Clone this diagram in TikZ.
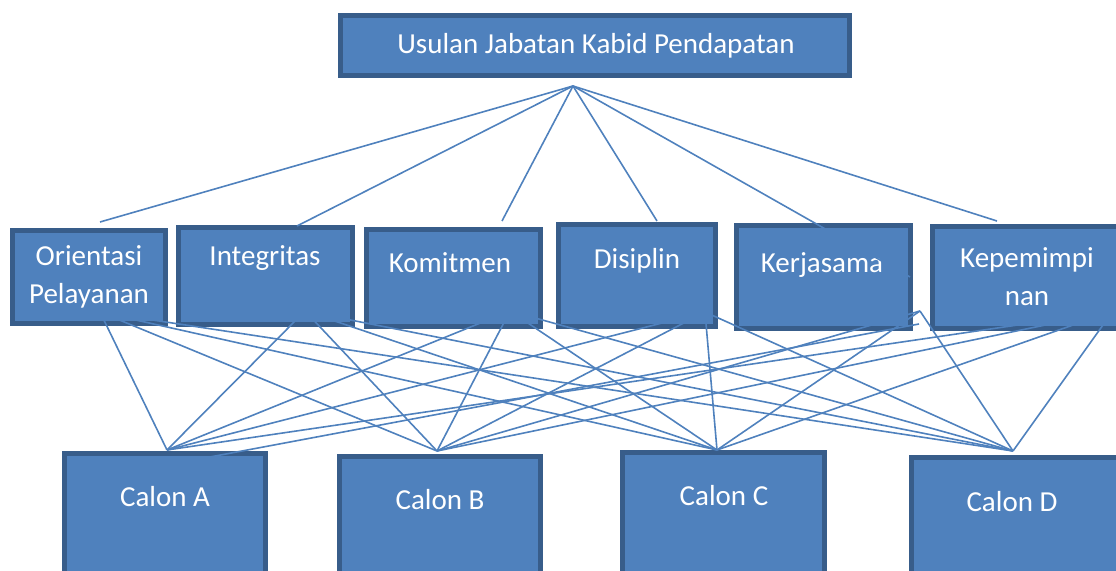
\documentclass[tikz,border=0pt]{standalone}
\usepackage{fontspec}
\setmainfont{Carlito}
\usepackage{tikz}
\usetikzlibrary{positioning,fit}
\usepackage{xcolor}
\definecolor{BoxFill}{HTML}{4F81BD}
\definecolor{BoxLine}{HTML}{385D8A}
\tikzset{
  boxnode/.style={draw=BoxLine,fill=BoxFill,line width=2.4pt,inner sep=0pt},
  boxtext/.style={text=white,align=center,font=\fontsize{14.5}{19}\selectfont,inner sep=0pt},
  link/.style={draw=BoxFill,line width=0.8pt}
}
\begin{document}
\begin{tikzpicture}[x=0.5pt,y=-0.5pt]
\useasboundingbox (0,0) rectangle (1116,571);
% goal
\node[boxnode,fit={(340.5,15.5) (849.5,75.5)}] (goal) {};
\node[boxtext] (goaltext) at (596,46) {Usulan Jabatan Kabid Pendapatan};
% criteria
\node[boxnode,fit={(12.5,230.5) (165.5,323.5)}] (ori) {};
\node[boxnode,fit={(178.5,227.5) (352.5,324.5)}] (int) {};
\node[boxnode,fit={(366.5,229.5) (540.5,326.5)}] (kom) {};
\node[boxnode,fit={(558.5,224.5) (715.5,326.5)}] (dis) {};
\node[boxnode,fit={(736.5,225.5) (910.5,328.5)}] (kja) {};
\node[boxnode,fit={(932.5,226.5) (1130,328.5)}] (kep) {};
\node[boxtext] (oritext) at (89,277) {Orientasi\\Pelayanan};
\node[boxtext] (inttext) at (265,258) {Integritas};
\node[boxtext] (komtext) at (450,263) {Komitmen};
\node[boxtext] (distext) at (637,261) {Disiplin};
\node[boxtext] (kjatext) at (822,265) {Kerjasama};
\node[boxtext] (keptext) at (1027,277) {Kepemimpi\\nan};
% alternatives
\node[boxnode,fit={(64.5,453.5) (265.5,590)}] (A) {};
\node[boxnode,fit={(339.5,456.5) (540.5,590)}] (B) {};
\node[boxnode,fit={(622.5,452.5) (824.5,590)}] (C) {};
\node[boxnode,fit={(911.5,457.5) (1130,590)}] (D) {};
\node[boxtext] (Atext) at (165,497) {Calon A};
\node[boxtext] (Btext) at (440,500) {Calon B};
\node[boxtext] (Ctext) at (724,496) {Calon C};
\node[boxtext] (Dtext) at (1012,502) {Calon D};
% connector ends
\coordinate (hub) at (573,86);
\coordinate (ori-in) at (100,222); \coordinate (int-in) at (297,226);
\coordinate (kom-in) at (502,221); \coordinate (dis-in) at (657,221);
\coordinate (kja-in) at (910,277); \coordinate (kep-in) at (997,221);
\coordinate (ori-out) at (100,312); \coordinate (int-out) at (305,311);
\coordinate (kom-out) at (510,311); \coordinate (dis-out) at (705,312);
\coordinate (kja-out) at (920,311); \coordinate (kja-low) at (919,324);
\coordinate (kep-out) at (1113,311);
\coordinate (A-in) at (167,450); \coordinate (B-in) at (437,451);
\coordinate (C-in) at (717,450); \coordinate (D-in) at (1013,451);
\coordinate (A-low) at (178,463);
% links
\foreach \c in {ori,int,kom,dis,kja,kep} \draw[link] (hub) -- (\c-in);
\foreach \c in {ori,int,kom,dis,kep}
  \foreach \a in {A,B,C,D} \draw[link] (\c-out) -- (\a-in);
\foreach \a in {B,C,D} \draw[link] (kja-out) -- (\a-in);
\draw[link] (kja-low) -- (A-low);
\end{tikzpicture}
\end{document}
